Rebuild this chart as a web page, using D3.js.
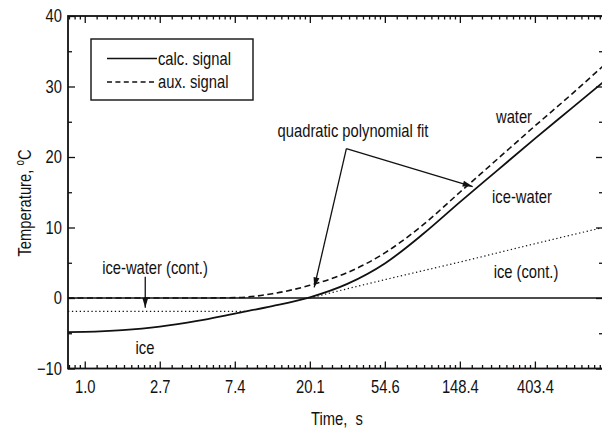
<!DOCTYPE html>
<html>
<head>
<meta charset="utf-8">
<script src="https://cdn.jsdelivr.net/npm/d3@7"></script>
<style>
  html, body { margin: 0; padding: 0; background: #fff; }
  svg { display: block; }
  text { font-family: "Liberation Sans", Arial, sans-serif; fill: #111; }
</style>
</head>
<body>
<svg id="chart" width="602" height="428"></svg>
<script>
// Temperature history (°C) against time (s) on a natural-log time axis
const timeS      = [0.8, 1.0, 1.65, 2.72, 4.48, 7.39, 12.18, 20.09, 33.12, 54.6, 90.02, 148.4, 244.7, 403.4, 665.1, 1000];
const calcSignal = [-4.85, -4.8, -4.55, -4.05, -3.25, -2.2, -1.15, 0.1, 2.0, 4.9, 9.0, 13.6, 18.1, 22.6, 27.0, 30.6];
const auxSignal  = [0, 0, 0, 0, 0, 0.05, 0.6, 1.8, 3.6, 6.4, 10.3, 15.0, 19.7, 24.4, 29.0, 32.9];

// continuation of the ice branch past the melting point
const iceContTime = [20.09, 54.6, 148.4, 403.4, 1000];
const iceContTemp = [0, 2.6, 5.1, 7.7, 10.0];

// continuation of the ice-water plateau before it
const iceWaterContTime = [0.8, 8.5];
const iceWaterContTemp = [-1.9, -1.9];

const xTickValues = [1.0, 2.718, 7.389, 20.09, 54.6, 148.4, 403.4];
const xTickLabels = ["1.0", "2.7", "7.4", "20.1", "54.6", "148.4", "403.4"];
const yTickValues = [-10, 0, 10, 20, 30, 40];
const yMinorValues = [-5, 5, 15, 25, 35];

const FS = 18, SX = 0.82;   // narrow sans: 18px glyphs squeezed horizontally

const svg = d3.select("#chart");
const pL = 68, pR = 603, pT = 16, pB = 368.5;

const x = d3.scaleLog().domain([0.8, 1000]).range([pL, pR]);
const y = d3.scaleLinear().domain([-10, 40]).range([pB, pT]);

// minor time ticks: ten linear steps inside each e-fold interval
const xMinor = [];
for (let n = -1; n < 7; n++) {
  const a = Math.exp(n), b = Math.exp(n + 1);
  for (let k = 1; k < 10; k++) {
    const t = a + k * (b - a) / 10;
    if (t > 0.8 && t < 1000) xMinor.push(t);
  }
}

const defs = svg.append("defs");
defs.append("clipPath").attr("id", "plotclip")
  .append("rect").attr("x", pL).attr("y", pT).attr("width", pR - pL).attr("height", pB - pT);
defs.append("marker").attr("id", "arrow")
  .attr("markerUnits", "userSpaceOnUse").attr("markerWidth", 12).attr("markerHeight", 8)
  .attr("viewBox", "0 -4 10 8").attr("refX", 10).attr("refY", 0).attr("orient", "auto")
  .append("path").attr("d", "M0,-3L10,0L0,3Z").attr("fill", "#111");

const plot = svg.append("g");

function styleAxis(g) {
  g.select(".domain").remove();
  g.selectAll(".tick line").attr("stroke", "#111").attr("stroke-width", 1.3);
  g.selectAll("text").attr("font-size", FS).attr("fill", "#111")
    .attr("font-family", "'Liberation Sans', Arial, sans-serif");
}

// bottom axis
const bottomAxis = d3.axisBottom(x).tickValues(xTickValues)
  .tickFormat((d, i) => xTickLabels[i]).tickSizeInner(-7).tickSizeOuter(0).tickPadding(11.5);
plot.append("g").attr("transform", `translate(0,${pB})`).call(bottomAxis).call(styleAxis)
  .selectAll("text").attr("transform", `scale(${SX},1)`);
plot.append("g").attr("transform", `translate(0,${pB})`)
  .call(d3.axisBottom(x).tickValues(xMinor).tickFormat("").tickSizeInner(-3.5).tickSizeOuter(0)).call(styleAxis);

// top axis
plot.append("g").attr("transform", `translate(0,${pT})`)
  .call(d3.axisTop(x).tickValues(xTickValues).tickFormat("").tickSizeInner(-7).tickSizeOuter(0)).call(styleAxis);
plot.append("g").attr("transform", `translate(0,${pT})`)
  .call(d3.axisTop(x).tickValues(xMinor).tickFormat("").tickSizeInner(-3.5).tickSizeOuter(0)).call(styleAxis);

// left axis
plot.append("g").attr("transform", `translate(${pL},0)`)
  .call(d3.axisLeft(y).tickValues(yTickValues).tickFormat(d3.format("d")).tickSizeInner(-7).tickSizeOuter(0).tickPadding(6))
  .call(styleAxis)
  .selectAll("text").attr("transform", `scale(${SX},1)`).attr("x", -6 / SX);
plot.append("g").attr("transform", `translate(${pL},0)`)
  .call(d3.axisLeft(y).tickValues(yMinorValues).tickFormat("").tickSizeInner(-4).tickSizeOuter(0)).call(styleAxis);

// right axis
plot.append("g").attr("transform", `translate(${pR},0)`)
  .call(d3.axisRight(y).tickValues(yTickValues).tickFormat("").tickSizeInner(-7).tickSizeOuter(0)).call(styleAxis);
plot.append("g").attr("transform", `translate(${pR},0)`)
  .call(d3.axisRight(y).tickValues(yMinorValues).tickFormat("").tickSizeInner(-4).tickSizeOuter(0)).call(styleAxis);

// frame
plot.append("rect").attr("x", pL).attr("y", pT).attr("width", pR - pL).attr("height", pB - pT)
  .attr("fill", "none").attr("stroke", "#111").attr("stroke-width", 1.8);

// series
const lines = plot.append("g").attr("clip-path", "url(#plotclip)");
const line = d3.line().x(d => x(d[0])).y(d => y(d[1])).curve(d3.curveMonotoneX);

lines.append("line").attr("x1", pL).attr("x2", pR).attr("y1", y(0)).attr("y2", y(0))
  .attr("stroke", "#111").attr("stroke-width", 1.6);

lines.append("path").datum(iceWaterContTime.map((t, i) => [t, iceWaterContTemp[i]]))
  .attr("d", line).attr("fill", "none").attr("stroke", "#111").attr("stroke-width", 1.2)
  .attr("stroke-dasharray", "1.3,2.6");
lines.append("path").datum(iceContTime.map((t, i) => [t, iceContTemp[i]]))
  .attr("d", line).attr("fill", "none").attr("stroke", "#111").attr("stroke-width", 1.2)
  .attr("stroke-dasharray", "1.3,2.6");
lines.append("path").datum(timeS.map((t, i) => [t, auxSignal[i]]))
  .attr("d", line).attr("fill", "none").attr("stroke", "#111").attr("stroke-width", 1.6)
  .attr("stroke-dasharray", "6,3.5");
lines.append("path").datum(timeS.map((t, i) => [t, calcSignal[i]]))
  .attr("d", line).attr("fill", "none").attr("stroke", "#111").attr("stroke-width", 1.8);

function arrow(t1, v1, t2, v2) {
  plot.append("line").attr("x1", x(t1)).attr("y1", y(v1)).attr("x2", x(t2)).attr("y2", y(v2))
    .attr("stroke", "#111").attr("stroke-width", 1.3).attr("marker-end", "url(#arrow)");
}

function label(px, py, str, anchor) {
  return plot.append("text").attr("transform", `translate(${px},${py}) scale(${SX},1)`)
    .attr("text-anchor", anchor || "middle").attr("font-size", FS).text(str);
}

// annotations
label(353, 137, "quadratic polynomial fit");
arrow(32.7, 21.2, 21.3, 1.5);
arrow(32.7, 21.2, 176, 15.8);
label(514, 123, "water");
label(522, 203, "ice-water");
label(526, 278, "ice (cont.)");
label(155, 274, "ice-water (cont.)");
arrow(2.24, 3.0, 2.24, -1.4);
label(145, 354, "ice");

// axis titles
plot.append("text").attr("transform", `translate(337,425) scale(${SX},1)`)
  .attr("text-anchor", "middle").attr("font-size", FS)
  .style("white-space", "pre").text("Time,  s");

const yt = plot.append("text").attr("transform", `translate(31,203) rotate(-90) scale(${SX},1)`)
  .attr("text-anchor", "middle").attr("font-size", FS);
yt.append("tspan").text("Temperature, ");
yt.append("tspan").attr("font-size", 12).attr("dy", -7).text("o");
yt.append("tspan").attr("dy", 7).text("C");

// legend
const lg = plot.append("g");
lg.append("rect").attr("x", 91).attr("y", 39).attr("width", 162).attr("height", 61)
  .attr("fill", "#fff").attr("stroke", "#111").attr("stroke-width", 1.4);
lg.append("line").attr("x1", 107).attr("x2", 157).attr("y1", 58.5).attr("y2", 58.5)
  .attr("stroke", "#111").attr("stroke-width", 1.5);
lg.append("line").attr("x1", 107).attr("x2", 157).attr("y1", 82).attr("y2", 82)
  .attr("stroke", "#111").attr("stroke-width", 1.3).attr("stroke-dasharray", "5,3.4");
label(158, 65, "calc. signal", "start");
label(158, 88, "aux. signal", "start");
</script>
</body>
</html>
